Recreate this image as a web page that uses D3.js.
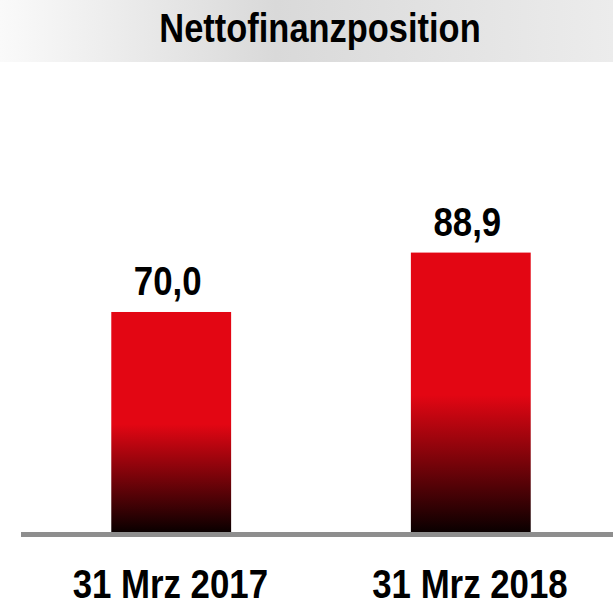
<!DOCTYPE html>
<html>
<head>
<meta charset="utf-8">
<script src="https://cdn.jsdelivr.net/npm/d3@7/dist/d3.min.js"></script>
<style>
  html, body { margin: 0; padding: 0; background: #fff; }
  svg { display: block; }
  text { font-family: "Liberation Sans", Arial, sans-serif; font-weight: bold; fill: #000; }
</style>
</head>
<body>
<svg id="chart" width="613" height="606"></svg>
<script>
// Net financial position at the two reporting dates
const title = "Nettofinanzposition";
const categories = ["31 Mrz 2017", "31 Mrz 2018"];
const values = [70.0, 88.9];
const valueLabels = ["70,0", "88,9"];

const W = 613, H = 606;
const svg = d3.select("#chart");
const defs = svg.append("defs");

// Draws narrow text: the glyphs are squeezed horizontally around the anchor x
function narrowText(sel, cx, cy, squeeze) {
  return sel.attr("transform", `translate(${cx},${cy}) scale(${squeeze},1)`)
    .attr("x", 0).attr("y", 0).attr("text-anchor", "middle");
}

// Header band: light at the edges, darker in the middle
const hg = defs.append("linearGradient").attr("id", "headGrad")
  .attr("x1", "0%").attr("x2", "100%").attr("y1", "0%").attr("y2", "0%");
hg.append("stop").attr("offset", "0%").attr("stop-color", "#fafafa");
hg.append("stop").attr("offset", "45%").attr("stop-color", "#d9d9d9");
hg.append("stop").attr("offset", "100%").attr("stop-color", "#ececec");

// Bar fill: solid red on top, fading to black over the lower half
const bg = defs.append("linearGradient").attr("id", "barGrad")
  .attr("x1", "0").attr("x2", "0").attr("y1", "0").attr("y2", "1");
bg.append("stop").attr("offset", "0%").attr("stop-color", "#e30613");
bg.append("stop").attr("offset", "51%").attr("stop-color", "#e30613");
bg.append("stop").attr("offset", "100%").attr("stop-color", "#0a0000");

svg.append("rect").attr("x", 0).attr("y", 0).attr("width", W).attr("height", 62)
  .attr("fill", "url(#headGrad)");

narrowText(svg.append("text"), 320, 42, 0.84)
  .attr("font-size", 41)
  .text(title);

const x = d3.scaleBand().domain(categories).range([25, 617])
  .paddingInner(0.6).paddingOuter(0.288);
const y = d3.scaleLinear().domain([0, 100]).range([532, 217.7]);

svg.selectAll("rect.bar").data(values).join("rect")
  .attr("class", "bar")
  .attr("x", (d, i) => x(categories[i]))
  .attr("width", x.bandwidth())
  .attr("y", d => y(d))
  .attr("height", d => y(0) - y(d))
  .attr("fill", "url(#barGrad)");

// Baseline
svg.append("line")
  .attr("x1", 21).attr("x2", W)
  .attr("y1", y(0) + 2.5).attr("y2", y(0) + 2.5)
  .attr("stroke", "#8e8e8e").attr("stroke-width", 5);

// Value labels above the bars
svg.selectAll("text.val").data(values).join("text")
  .attr("class", "val")
  .each(function (d, i) {
    narrowText(d3.select(this), x(categories[i]) + x.bandwidth() / 2 - 3.5, y(d) - 17, 0.87);
  })
  .attr("font-size", 40)
  .text((d, i) => valueLabels[i]);

// Category labels
const xAxis = d3.axisBottom(x).tickSize(0).tickPadding(0);
const gx = svg.append("g").attr("transform", `translate(0, ${y(0)})`).call(xAxis);
gx.select(".domain").remove();
gx.selectAll(".tick text")
  .attr("y", 66).attr("dy", null)
  .attr("transform", "scale(0.87,1)")
  .attr("x", -1)
  .attr("font-size", 40)
  .attr("font-family", null)
  .attr("fill", "#000");
</script>
</body>
</html>
